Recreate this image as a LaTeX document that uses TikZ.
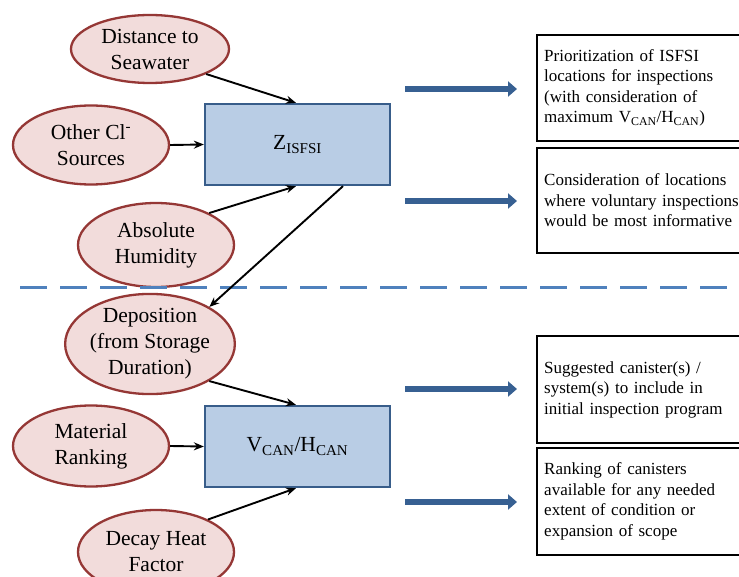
\documentclass[tikz,border=0pt]{standalone}
\usepackage{fontspec}
\setmainfont{Liberation Serif}
\usetikzlibrary{shapes.geometric,arrows.meta}
\definecolor{ellfill}{HTML}{F2DCDB}
\definecolor{elldraw}{HTML}{953735}
\definecolor{boxfill}{HTML}{B9CDE5}
\definecolor{boxdraw}{HTML}{385D8A}
\definecolor{bigarrow}{HTML}{376092}
\definecolor{dashblue}{HTML}{4F81BD}
\tikzset{
  factor/.style={ellipse, draw=elldraw, fill=ellfill, line width=2.3pt, inner sep=0pt,
    minimum width=156pt, align=center, font=\fontsize{21.5}{26}\selectfont},
  zbox/.style={rectangle, draw=boxdraw, fill=boxfill, line width=2.3pt,
    minimum width=185pt, minimum height=81pt, font=\fontsize{21.5}{26}\selectfont},
  outbox/.style={rectangle, draw=black, line width=2.4pt, anchor=west, text width=200pt,
    inner xsep=7pt, align=left, font=\fontsize{17}{20.5}\selectfont},
  link/.style={draw=black, line width=1.9pt, -{Stealth[length=10pt,width=8pt]}},
  fat/.style={draw=bigarrow, line width=6.5pt, -{Triangle[length=9pt,width=15pt]}}
}
\begin{document}
\begin{tikzpicture}[x=1pt,y=-1pt]
\clip (0,0) rectangle (739,577);
\fill[white] (0,0) rectangle (739,577);
% upper half
\node[factor, minimum width=158pt, minimum height=68pt] (dist) at (150,49) {Distance to\\Seawater};
\node[factor, minimum height=79pt] (other) at (91,145) {Other Cl\textsuperscript{-}\\Sources};
\node[factor, minimum height=84pt] (hum) at (156,245) {Absolute\\Humidity};
\node[zbox] (z) at (297.5,144.5) {Z\textsubscript{ISFSI}};
% lower half
\node[factor, minimum height=98pt] (dep) at (150,344) {Deposition\\(from Storage\\Duration)};
\node[factor, minimum height=81pt] (mat) at (91,446) {Material\\Ranking};
\node[factor, minimum height=84pt] (decay) at (156,552) {Decay Heat\\Factor};
\node[zbox] (v) at (297.5,446.5) {V\textsubscript{CAN}/H\textsubscript{CAN}};
% dashed separator
\coordinate (dl) at (20,288);
\coordinate (dr) at (745,288);
\draw[dashblue, line width=3pt, dash pattern=on 27pt off 13pt] (dl) -- (dr);
% connectors
\draw[link] (dist.-24) -- (z.north -| 296,0);
\draw[link] (other.east) -- (z.west);
\draw[link] (hum.31) -- (z.south -| 296,0);
\draw[link] (z.south -| 343,0) -- (dep.32);
\draw[link] (dep.-32) -- (v.north -| 296,0);
\draw[link] (mat.east) -- (v.west);
\draw[link] (decay.32) -- (v.south -| 296,0);
% output boxes
\node[outbox, minimum height=106pt] (o1) at (536,88) {Prioritization of ISFSI\\locations for inspections\\(with consideration of\\maximum V\textsubscript{CAN}/H\textsubscript{CAN})};
\node[outbox, minimum height=105pt] (o2) at (536,200.5) {Consideration of locations\\where voluntary inspections\\would be most informative};
\node[outbox, minimum height=107pt] (o3) at (536,389.5) {Suggested canister(s) /\\system(s) to include in\\initial inspection program};
\node[outbox, minimum height=107pt] (o4) at (536,501.5) {Ranking of canisters\\available for any needed\\extent of condition or\\expansion of scope};
% big arrows
\coordinate (a1s) at (405,89); \coordinate (a1e) at (517,89);
\coordinate (a2s) at (405,201); \coordinate (a2e) at (517,201);
\coordinate (a3s) at (405,389); \coordinate (a3e) at (517,389);
\coordinate (a4s) at (405,502); \coordinate (a4e) at (517,502);
\draw[fat] (a1s) -- (a1e);
\draw[fat] (a2s) -- (a2e);
\draw[fat] (a3s) -- (a3e);
\draw[fat] (a4s) -- (a4e);
\end{tikzpicture}
\end{document}
